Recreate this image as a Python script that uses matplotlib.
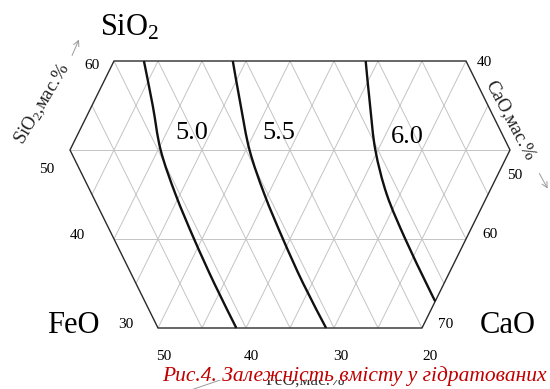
import matplotlib
matplotlib.use('Agg')
import matplotlib.pyplot as plt
from matplotlib.patches import Polygon, Rectangle, PathPatch
from matplotlib.path import Path
import numpy as np

plt.rcParams['font.family'] = ['Liberation Serif', 'DejaVu Serif']
plt.rcParams['mathtext.fontset'] = 'custom'
plt.rcParams['mathtext.rm'] = 'Liberation Serif'
plt.rcParams['mathtext.it'] = 'Liberation Serif:italic'

# ---------------- data (mass %) ----------------
# hexagon (truncated ternary field): SiO2 and CaO at the corners
hex_sio2 = [60, 60, 50, 30, 30, 50]
hex_cao = [0, 40, 50, 50, 20, 0]

# grid levels
sio2_grid = [40, 50]
cao_grid = [5, 10, 15, 20, 25, 30, 35, 40, 45]
feo_grid = [5, 10, 15, 20, 25, 30, 35, 40, 45]

# isolines
iso_labels = ['5.0', '5.5', '6.0']
sio2_50 = [60, 55, 50, 45, 40, 35, 30]
cao_50 = [3.4, 6.9, 10.3, 14.5, 19.1, 23.9, 28.9]
sio2_55 = [60, 55, 50, 45, 40, 35, 30]
cao_55 = [13.5, 16.9, 20.4, 24.6, 29.2, 34.0, 39.1]
sio2_60 = [60, 55, 50, 45, 40, 35, 33.0]
cao_60 = [28.6, 31.6, 34.7, 38.5, 43.1, 48.0, 50.0]

# tick labels
sio2_ticks = ['60', '50', '40', '30']
cao_ticks = ['40', '50', '60', '70']
feo_ticks = ['50', '40', '30', '20']

caption = 'Рис.4. Залежність вмісту у гідратованих'


# ---------------- helpers ----------------
def tern(sio2, cao):
    s = np.asarray(sio2, float)
    c = np.asarray(cao, float)
    return c + s / 2.0, s


def P(px, py):
    """layout position given in pixels of the 550x389 picture"""
    return (px + 150) / 8.8, (595 - py) / 8.9


def smooth_path(x, y):
    """cubic Bezier path through the data points (Catmull-Rom tangents)"""
    pts = np.column_stack([x, y])
    n = len(pts)
    verts = [pts[0]]
    codes = [Path.MOVETO]
    for i in range(n - 1):
        p0 = pts[i - 1] if i > 0 else pts[i]
        p1, p2 = pts[i], pts[i + 1]
        p3 = pts[i + 2] if i + 2 < n else pts[i + 1]
        c1 = p1 + (p2 - p0) / 6.0
        c2 = p2 - (p3 - p1) / 6.0
        verts += [c1, c2, p2]
        codes += [Path.CURVE4] * 3
    return Path(verts, codes)


fig = plt.figure(figsize=(5.5, 3.89), dpi=100)
ax = fig.add_axes([0, 0, 1, 1])
x0, y1 = P(0, 0)
x1, y0 = P(550, 389)
ax.set_xlim(x0, x1)
ax.set_ylim(y0, y1)
ax.axis('off')

hx, hy = tern(hex_sio2, hex_cao)
hexagon = Polygon(np.column_stack([hx, hy]), closed=True, fill=False,
                  edgecolor='#2a2a2a', lw=1.0, zorder=3)
ax.add_patch(hexagon)
clip = Polygon(np.column_stack([hx, hy]), closed=True, transform=ax.transData)

gcol = '#c4c4c4'
glw = 0.7
s_range = np.array([20, 70])
for c in cao_grid:
    gx, gy = tern(s_range, [c, c])
    ln, = ax.plot(gx, gy, color=gcol, lw=glw, zorder=1)
    ln.set_clip_path(clip)
for f in feo_grid:
    gx, gy = tern(s_range, 100 - f - s_range)
    ln, = ax.plot(gx, gy, color=gcol, lw=glw, zorder=1)
    ln.set_clip_path(clip)
for s in sio2_grid:
    gx, gy = tern([s, s], [-10, 80])
    ln, = ax.plot(gx, gy, color=gcol, lw=glw, zorder=1)
    ln.set_clip_path(clip)

for ss, cc in [(sio2_50, cao_50), (sio2_55, cao_55), (sio2_60, cao_60)]:
    cx, cy = tern(ss, cc)
    ax.add_patch(PathPatch(smooth_path(cx, cy), facecolor='none',
                           edgecolor='#111111', lw=1.7, zorder=4,
                           capstyle='butt', joinstyle='round'))

iso_pos = [(192, 133), (279, 133), (407, 137)]
for lab, (px, py) in zip(iso_labels, iso_pos):
    ax.text(*P(px, py), lab, fontsize=19, ha='center', va='center', zorder=5)

# tick labels
tick_fs = 11
for lab, (px, py) in zip(sio2_ticks, [(92, 66), (47, 170), (77, 236), (126, 325)]):
    ax.text(*P(px, py), lab, fontsize=tick_fs, ha='center', va='center')
for lab, (px, py) in zip(cao_ticks, [(484, 63), (515, 176), (490, 235), (446, 325)]):
    ax.text(*P(px, py), lab, fontsize=tick_fs, ha='center', va='center')
for lab, (px, py) in zip(feo_ticks, [(164, 357), (251, 357), (341, 357), (430, 357)]):
    ax.text(*P(px, py), lab, fontsize=tick_fs, ha='center', va='center')

# corner labels
ax.text(*P(130, 28), r'SiO$_{\mathrm{2}}$', fontsize=22, ha='center', va='center')
ax.text(*P(73, 326), 'FeO', fontsize=22, ha='center', va='center')
ax.text(*P(508, 326), 'CaO', fontsize=22, ha='center', va='center')

# axis titles with arrows
ax.text(*P(42, 104), r'SiO$_{\mathrm{2}}$,мас.%', fontsize=13.5, rotation=59,
        ha='center', va='center', color='#222222')
ax.annotate('', xy=P(80, 37), xytext=P(71, 58),
            arrowprops=dict(arrowstyle='->', color='#9a9a9a', lw=0.7))
ax.text(*P(510, 120), 'CaO,мас.%', fontsize=13.5, rotation=-62,
        ha='center', va='center', color='#222222')
ax.annotate('', xy=P(549, 191), xytext=P(538, 171),
            arrowprops=dict(arrowstyle='->', color='#9a9a9a', lw=0.7))
ax.text(*P(305, 381), 'FeO,мас.%', fontsize=12.5, ha='center', va='center',
        color='#333333', zorder=1)
ax.plot(*zip(P(232, 376), P(188, 391)), color='#9a9a9a', lw=0.7, zorder=1)

# white band under the caption
bx, by = P(158, 380)
ax.add_patch(Rectangle((bx, by), (550 - 158) / 8.8, 16 / 8.9,
                       facecolor='white', edgecolor='none', zorder=6))
ax.text(*P(162, 381), caption, fontsize=15.5, style='italic', color='#c00000',
        ha='left', va='baseline', zorder=7)

fig.savefig('out.png', dpi=100)
